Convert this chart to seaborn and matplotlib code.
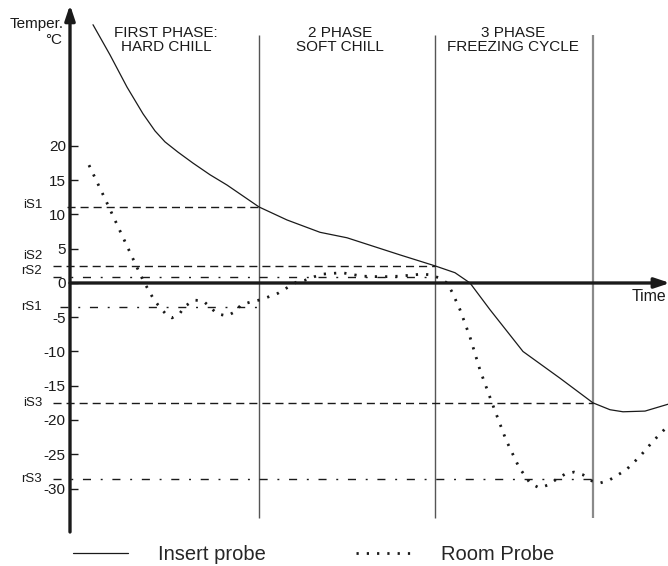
import matplotlib
matplotlib.use("Agg")
import matplotlib.pyplot as plt
import seaborn as sns
import numpy as np
from matplotlib.lines import Line2D

# ---- data (time in arbitrary units, temperature in °C) ----
insert_time = [23, 40, 57, 73, 85, 95, 108, 123, 140, 157, 173, 189, 217, 250, 277, 330,
               365, 385, 400, 420, 453, 490, 523, 540, 553, 575, 598]
insert_temp = [37.7, 33.3, 28.6, 24.7, 22.2, 20.6, 19.1, 17.5, 15.8, 14.3, 12.7, 11.1, 9.2,
               7.4, 6.6, 4.1, 2.5, 1.5, 0.0, -3.9, -10.0, -13.9, -17.5, -18.5, -18.8, -18.7,
               -17.7]

room_time = [19, 35, 50, 65, 73, 78, 83, 88, 95, 102, 110, 115, 124, 133, 140, 147, 157, 165,
             171, 180, 189, 199, 208, 217, 226, 235, 244, 253, 272, 292, 312, 330, 352, 360,
             370, 377, 382, 390, 400, 410, 422, 436, 449, 460, 469, 478, 487, 495, 504, 513,
             522, 530, 539, 548, 556, 570, 583, 597]
room_temp = [17.2, 12.3, 7.6, 2.9, 0.4, -0.9, -2.2, -3.2, -4.4, -5.1, -4.4, -3.4, -2.5, -2.6,
             -3.5, -4.5, -4.8, -4.2, -3.2, -2.8, -2.5, -2.0, -1.5, -0.7, 0.1, 0.4, 0.9, 1.3,
             1.5, 1.0, 0.9, 1.0, 1.3, 1.2, 0.7, 0.0, -1.3, -3.9, -7.9, -12.7, -17.5, -22.9,
             -26.9, -29.2, -29.9, -29.5, -28.6, -27.9, -27.6, -28.0, -28.9, -29.2, -28.8,
             -28.0, -27.3, -25.3, -23.1, -21.0]

phase_ends = [189, 365, 523]
phase_labels = ["FIRST PHASE:\nHARD CHILL", "2 PHASE\nSOFT CHILL", "3 PHASE\nFREEZING CYCLE"]
phase_centers = [96, 270, 443]

setpoint_names = ["iS1", "iS2", "rS2", "rS1", "iS3", "rS3"]
setpoint_values = [11.1, 2.5, 0.9, -3.5, -17.5, -28.6]
setpoint_kind = ["insert", "insert", "room", "room", "insert", "room"]
setpoint_start = [-3, -17, -17, -10, -17, -17]
setpoint_end = [189, 365, 365, 189, 523, 523]
setpoint_label_y = [11.4, 4.0, 1.8, -3.5, -17.5, -28.6]

ytick_values = [20, 15, 10, 5, 0, -5, -10, -15, -20, -25, -30]
ytick_labels = ["20", "15", "10", "5", "0", "-5", "-10", "-15", "-20", "-25", "-30"]

# ---- style ----
sns.set_style("white")
plt.rcParams["font.family"] = ["Liberation Sans", "DejaVu Sans"]
plt.rcParams["axes.unicode_minus"] = False

fig = plt.figure(figsize=(6.68, 5.66), dpi=100)
ax = fig.add_axes([70 / 668, 34 / 566, 598 / 668, 527 / 566])
ax.set_xlim(0, 598)
ax.set_ylim(-36.35, 40.58)
for s in ax.spines.values():
    s.set_visible(False)

INK = "#1a1a1a"

# phase separators
for i, xe in enumerate(phase_ends):
    col = "#555555" if i < 2 else "#8a8a8a"
    lw = 1.0 if i < 2 else 1.6
    ax.vlines(xe, -34.3, 36.2, color=col, lw=lw, zorder=2)
for xc, lab in zip(phase_centers, phase_labels):
    ax.text(xc, 35.5, lab, ha="center", va="center", fontsize=11, color=INK,
            linespacing=1.0, multialignment="center")

# set-point lines
dash_style = (0, (5.8, 3.6))
dashdot_style = (0, (5.8, 7.0, 1.4, 7.0))
for name, v, kind, x0, x1, ly in zip(setpoint_names, setpoint_values, setpoint_kind,
                                     setpoint_start, setpoint_end, setpoint_label_y):
    ls = dash_style if kind == "insert" else dashdot_style
    ax.plot([x0, x1], [v, v], color=INK, lw=1.0, linestyle=ls, clip_on=False, zorder=3)
    ax.text(-28, ly, name, ha="right", va="center", fontsize=9.5, color=INK)

# curves
sns.lineplot(x=insert_time, y=insert_temp, ax=ax, color=INK, lw=0.9, sort=False,
             estimator=None, zorder=4)
sns.lineplot(x=room_time, y=room_temp, ax=ax, color=INK, lw=2.0, sort=False,
             estimator=None, zorder=4, linestyle=(0, (0.8, 2.9)))

# axes arrows
ax.annotate("", xy=(0, 40.6), xytext=(0, -36.35),
            arrowprops=dict(arrowstyle="-|>,head_length=0.9,head_width=0.3", lw=2.4,
                            color=INK, shrinkA=0, shrinkB=0), annotation_clip=False, zorder=6)
ax.annotate("", xy=(600, 0), xytext=(0, 0),
            arrowprops=dict(arrowstyle="-|>,head_length=0.9,head_width=0.3", lw=2.4,
                            color=INK, shrinkA=0, shrinkB=0), annotation_clip=False, zorder=6)

# ticks
ax.set_xticks([])
ax.set_yticks(ytick_values)
ax.set_yticklabels(ytick_labels)
ax.tick_params(axis="y", direction="in", length=6, width=1.0, pad=3, labelsize=11,
               colors=INK, left=True)

ax.text(-6, 37.8, "Temper.", ha="right", va="center", fontsize=11, color=INK)
ax.text(-8, 35.4, "°C", ha="right", va="center", fontsize=11, color=INK)
ax.text(562, -2.0, "Time", ha="left", va="center", fontsize=11.4, color=INK)

# legend
handles = [Line2D([], [], color=INK, lw=0.9),
           Line2D([], [], color=INK, lw=2.0, linestyle=(0, (0.8, 2.9)))]
fig.legend(handles, ["Insert probe", "Room Probe"], ncol=2, frameon=False,
           loc="center left", bbox_to_anchor=(73 / 668, 11 / 566), fontsize=14.5,
           handlelength=2.75, handletextpad=1.45, columnspacing=4.5,
           borderpad=0, borderaxespad=0)

fig.savefig("out.png", dpi=100)
